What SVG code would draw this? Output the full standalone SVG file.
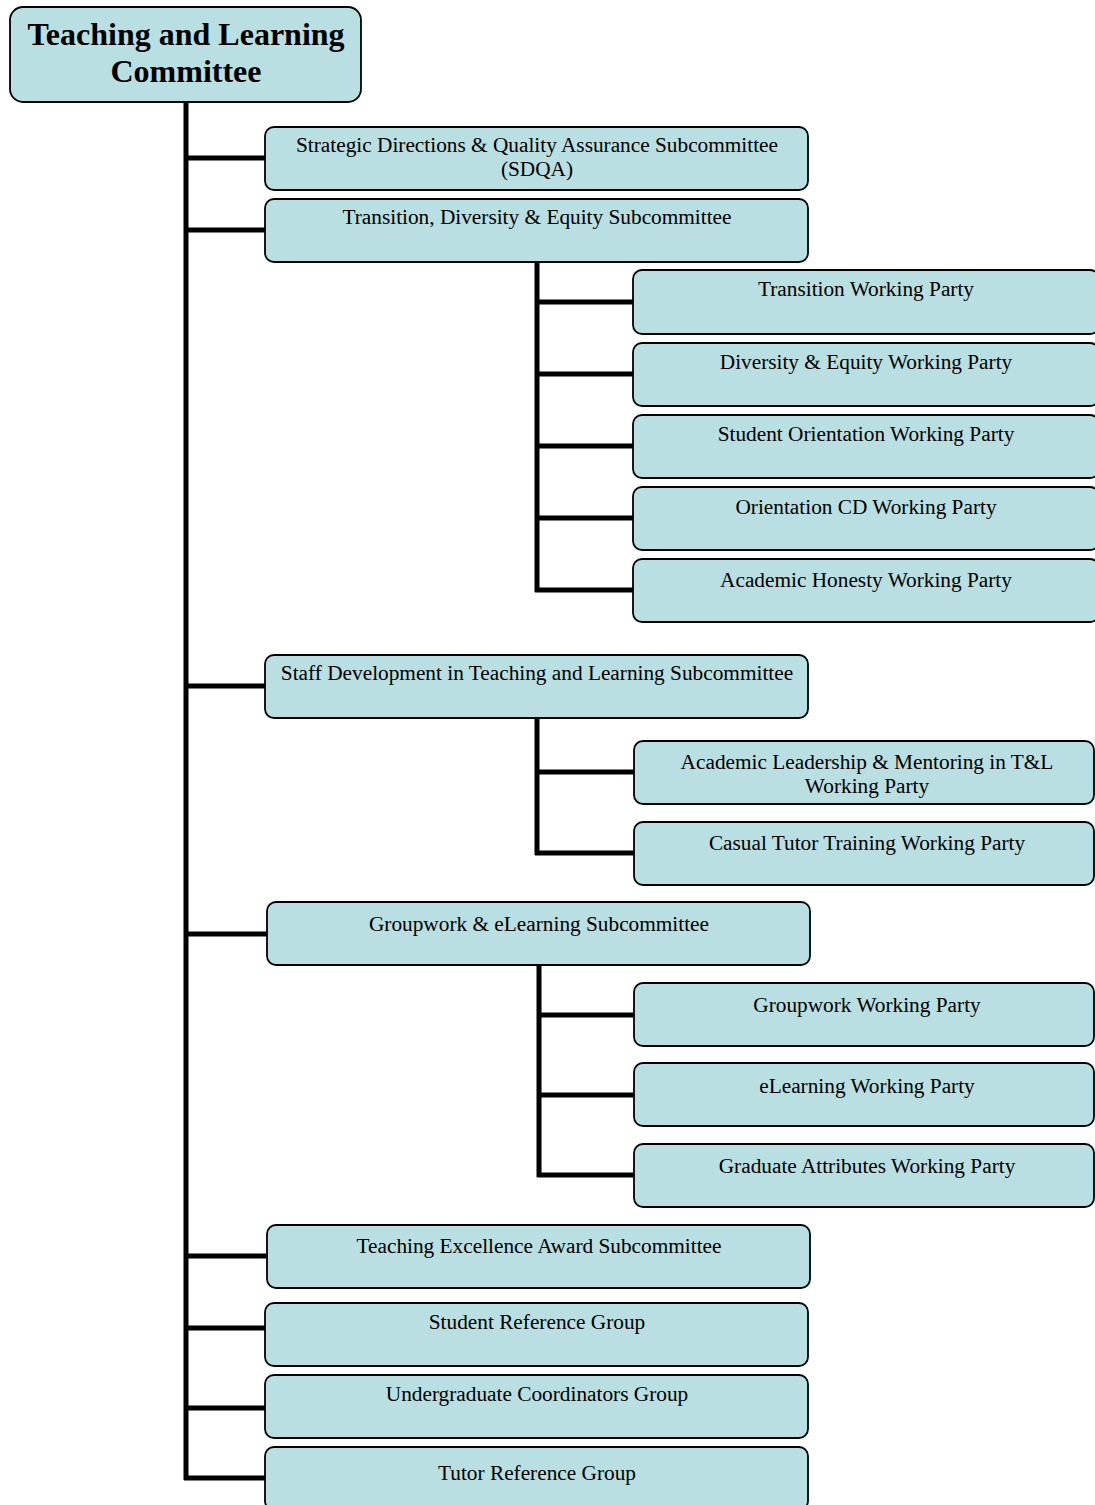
<svg xmlns="http://www.w3.org/2000/svg" width="1095" height="1505" viewBox="0 0 1095 1505">
<style>
.box{fill:#b9dfe3;stroke:#000;stroke-width:1.8}
.t{font-family:"Liberation Serif","Times New Roman",serif;font-size:21.3px;fill:#000;text-anchor:middle}
.title{font-family:"Liberation Serif","Times New Roman",serif;font-size:32px;font-weight:bold;fill:#000;text-anchor:middle}
.c{stroke:#000;stroke-width:5;fill:none}
</style>
<rect width="1095" height="1505" fill="#fff"/>
<g id="connectors">
<path class="c" d="M186,102 V1480 M184,158 H266 M184,230 H266 M184,686 H266 M184,934 H268 M184,1256 H268 M184,1328 H266 M184,1408 H266 M184,1478 H266"/>
<path class="c" d="M537,262 V592 M535,302 H634 M535,374 H634 M535,446 H634 M535,518 H634 M535,590 H634"/>
<path class="c" d="M537,718 V855 M535,772 H635 M535,853 H635"/>
<path class="c" d="M539,965 V1177 M537,1015 H635 M537,1095 H635 M537,1175 H635"/>
</g>
<g id="tlc"><rect class="box" x="10" y="7" width="351" height="95" rx="13"/><text class="title" x="186" y="45">Teaching and Learning</text><text class="title" x="186" y="82">Committee</text></g>
<g id="sdqa"><rect class="box" x="265" y="127" width="543" height="63" rx="9"/><text class="t" x="537" y="152">Strategic Directions &amp; Quality Assurance Subcommittee</text><text class="t" x="537" y="176">(SDQA)</text></g>
<g id="tde"><rect class="box" x="265" y="199" width="543" height="63" rx="9"/><text class="t" x="537" y="224">Transition, Diversity &amp; Equity Subcommittee</text></g>
<g id="twp"><rect class="box" x="633" y="270" width="466" height="64" rx="9"/><text class="t" x="866" y="296">Transition Working Party</text></g>
<g id="dewp"><rect class="box" x="633" y="343" width="466" height="63" rx="9"/><text class="t" x="866" y="369">Diversity &amp; Equity Working Party</text></g>
<g id="sowp"><rect class="box" x="633" y="415" width="466" height="63" rx="9"/><text class="t" x="866" y="441">Student Orientation Working Party</text></g>
<g id="ocdwp"><rect class="box" x="633" y="487" width="466" height="63" rx="9"/><text class="t" x="866" y="514">Orientation CD Working Party</text></g>
<g id="ahwp"><rect class="box" x="633" y="559" width="466" height="63" rx="9"/><text class="t" x="866" y="587">Academic Honesty Working Party</text></g>
<g id="sdtl"><rect class="box" x="265" y="655" width="543" height="63" rx="9"/><text class="t" x="537" y="680">Staff Development in Teaching and Learning Subcommittee</text></g>
<g id="almwp"><rect class="box" x="634" y="741" width="460" height="63" rx="9"/><text class="t" x="867" y="769">Academic Leadership &amp; Mentoring in T&amp;L</text><text class="t" x="867" y="793">Working Party</text></g>
<g id="cttwp"><rect class="box" x="634" y="822" width="460" height="63" rx="9"/><text class="t" x="867" y="850">Casual Tutor Training Working Party</text></g>
<g id="gel"><rect class="box" x="267" y="902" width="543" height="63" rx="9"/><text class="t" x="539" y="931">Groupwork &amp; eLearning Subcommittee</text></g>
<g id="gwp"><rect class="box" x="634" y="983" width="460" height="63" rx="9"/><text class="t" x="867" y="1012">Groupwork Working Party</text></g>
<g id="elwp"><rect class="box" x="634" y="1063" width="460" height="63" rx="9"/><text class="t" x="867" y="1093">eLearning Working Party</text></g>
<g id="gawp"><rect class="box" x="634" y="1144" width="460" height="63" rx="9"/><text class="t" x="867" y="1173">Graduate Attributes Working Party</text></g>
<g id="tea"><rect class="box" x="267" y="1225" width="543" height="63" rx="9"/><text class="t" x="539" y="1253">Teaching Excellence Award Subcommittee</text></g>
<g id="srg"><rect class="box" x="265" y="1303" width="543" height="63" rx="9"/><text class="t" x="537" y="1329">Student Reference Group</text></g>
<g id="ucg"><rect class="box" x="265" y="1375" width="543" height="63" rx="9"/><text class="t" x="537" y="1401">Undergraduate Coordinators Group</text></g>
<g id="trg"><rect class="box" x="265" y="1447" width="543" height="63" rx="9"/><text class="t" x="537" y="1480">Tutor Reference Group</text></g>
</svg>
